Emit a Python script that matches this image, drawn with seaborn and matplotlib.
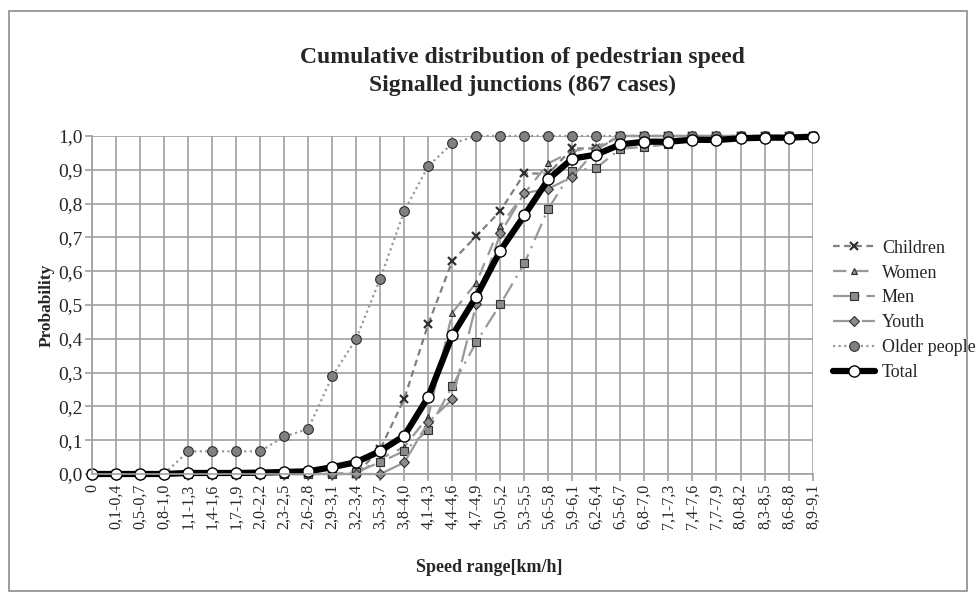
import numpy as np
import pandas as pd
import seaborn as sns
import matplotlib.pyplot as plt
from matplotlib.patches import Rectangle

categories = ['0', '0,1-0,4', '0,5-0,7', '0,8-1,0', '1,1-1,3', '1,4-1,6', '1,7-1,9',
              '2,0-2,2', '2,3-2,5', '2,6-2,8', '2,9-3,1', '3,2-3,4', '3,5-3,7', '3,8-4,0',
              '4,1-4,3', '4,4-4,6', '4,7-4,9', '5,0-5,2', '5,3-5,5', '5,6-5,8', '5,9-6,1',
              '6,2-6,4', '6,5-6,7', '6,8-7,0', '7,1-7,3', '7,4-7,6', '7,7-7,9', '8,0-8,2',
              '8,3-8,5', '8,6-8,8', '8,9-9,1']

children = [0, 0, 0, 0, 0, 0, 0, 0, 0, 0, 0, 0, 0.074, 0.222, 0.444, 0.63, 0.704, 0.778,
            0.889, 0.889, 0.963, 0.963, 1, 1, 1, 1, 1, 1, 1, 1, 1]
women = [0, 0, 0, 0, 0, 0, 0, 0, 0, 0, 0, 0, 0.045, 0.08, 0.17, 0.477, 0.566, 0.734,
         0.83, 0.919, 0.955, 0.968, 1, 1, 1, 1, 1, 1, 1, 1, 1]
men = [0, 0, 0, 0, 0, 0, 0, 0, 0, 0, 0, 0.005, 0.035, 0.068, 0.13, 0.26, 0.39, 0.502,
       0.623, 0.785, 0.897, 0.906, 0.962, 0.968, 0.975, 0.99, 0.99, 1, 1, 1, 1]
youth = [0, 0, 0, 0, 0, 0, 0, 0, 0, 0, 0, 0, 0, 0.034, 0.153, 0.221, 0.503, 0.712,
         0.831, 0.844, 0.879, 0.96, 1, 1, 1, 1, 1, 1, 1, 1, 1]
older = [0, 0, 0, 0, 0.067, 0.067, 0.067, 0.067, 0.111, 0.133, 0.289, 0.4, 0.578, 0.778,
         0.911, 0.978, 1, 1, 1, 1, 1, 1, 1, 1, 1, 1, 1, 1, 1, 1, 1]
total = [0, 0, 0, 0, 0.003, 0.003, 0.003, 0.004, 0.006, 0.008, 0.02, 0.035, 0.068, 0.113,
         0.228, 0.41, 0.525, 0.661, 0.765, 0.872, 0.933, 0.945, 0.975, 0.983, 0.983,
         0.989, 0.988, 0.993, 0.995, 0.995, 0.998]

sns.set_style("white")
plt.rcParams['font.family'] = ['Liberation Serif', 'DejaVu Serif']

pos = np.arange(len(categories))
fig = plt.figure(figsize=(9.79, 5.99), dpi=100)
ax = fig.add_axes([0.094, 0.2087, 0.736, 0.5643])

# style of each series: (values, color, dashes, marker, markersize, marker face)
styles = {
    'Children': (children, '#7f7f7f', (3, 2), 'x', 6, '#404040'),
    'Women': (women, '#999999', (6, 4), '^', 5, '#8c8c8c'),
    'Men': (men, '#999999', (8, 3, 1, 3), 's', 6, '#8c8c8c'),
    'Youth': (youth, '#999999', (10, 3), 'D', 5, '#8c8c8c'),
    'Older people': (older, '#999999', (1, 1.5), 'o', 7, '#808080'),
}
for name, (vals, col, dash, mk, ms, mfc) in styles.items():
    sns.lineplot(x=pos, y=vals, ax=ax, color=col, linewidth=1.6, label=name,
                 marker=mk, markersize=ms, markerfacecolor=mfc,
                 markeredgecolor='#303030', markeredgewidth=0.8 if mk != 'x' else 1.6,
                 clip_on=False)
    ax.lines[-1].set_dashes(dash)

sns.lineplot(x=pos, y=total, ax=ax, color='black', linewidth=4.5, label='Total',
             marker='o', markersize=8, markerfacecolor='white',
             markeredgecolor='black', markeredgewidth=1.0, clip_on=False)

ax.set_xlim(0, len(categories) - 1)
ax.set_ylim(0, 1.0)
ax.set_xticks(pos)
ax.set_xticklabels(categories, rotation=90, fontsize=11.5)
yt = np.round(np.arange(0, 1.01, 0.1), 1)
ax.set_yticks(yt)
ax.set_yticklabels([f'{v:.1f}'.replace('.', ',') for v in yt], fontsize=14)
ax.grid(True, color='#a0a0a0', linewidth=1.2)
ax.set_axisbelow(True)
for s in ['top', 'right']:
    ax.spines[s].set_visible(False)
for s in ['left', 'bottom']:
    ax.spines[s].set_color('#a0a0a0')
    ax.spines[s].set_linewidth(1.2)
ax.tick_params(axis='both', which='both', length=5, width=1.2, color='#a0a0a0',
               direction='out', pad=2, left=True, bottom=True)
ax.set_xlabel('')
ax.set_ylabel('Probability', fontsize=12.5, fontweight='bold', labelpad=2)

fig.text(0.534, 0.881, 'Cumulative distribution of pedestrian speed\nSignalled junctions (867 cases)',
         ha='center', va='center', fontsize=17, fontweight='bold', linespacing=1.4)
fig.text(0.4995, 0.053, 'Speed range[km/h]', ha='center', va='center',
         fontsize=13, fontweight='bold')

ax.legend(loc='upper left', bbox_to_anchor=(0.851, 0.6), bbox_transform=fig.transFigure,
          frameon=False, fontsize=13, handlelength=2.3, handletextpad=0.4,
          labelspacing=0.44, borderaxespad=0, borderpad=0)

fig.patches.append(Rectangle((9 / 979, 8 / 599), 958 / 979, 580 / 599,
                             transform=fig.transFigure, fill=False,
                             edgecolor='#8c8c8c', linewidth=1.2))

fig.savefig('out.png', dpi=100)
